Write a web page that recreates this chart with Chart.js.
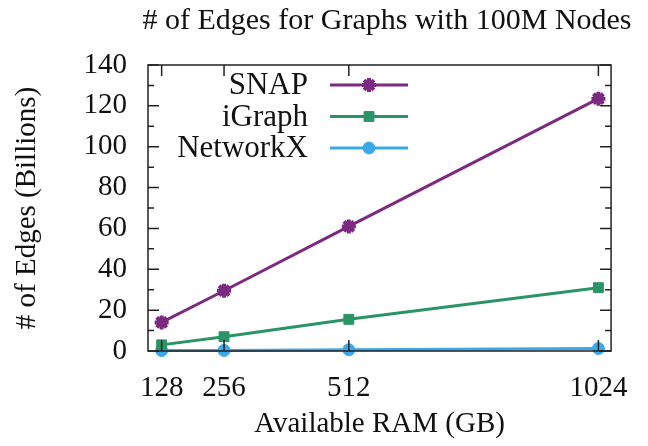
<!DOCTYPE html>
<html>
<head>
<meta charset="utf-8">
<script src="https://cdn.jsdelivr.net/npm/chart.js@4.4.1/dist/chart.umd.min.js"></script>
<style>
  html, body { margin: 0; padding: 0; background: #fff; }
  #wrap { width: 648px; height: 446px; position: relative; }
</style>
</head>
<body>
<div id="wrap"><canvas id="c"></canvas></div>
<script>
const ramGB = [128, 256, 512, 1024];
const snapEdges = [14, 29.5, 61, 123.5];
const igraphEdges = [3, 7, 15.5, 31];
const networkxEdges = [0.2, 0.3, 0.6, 1.2];
const yTicks = [0, 20, 40, 60, 80, 100, 120, 140];
const yMinorTicks = [10, 30, 50, 70, 90, 110, 130];

const SERIF = '"Liberation Serif", "Times New Roman", serif';
const seriesList = [
  { label: 'SNAP', data: snapEdges, color: '#7b2a80', style: 'star', radius: 7, bw: 4 },
  { label: 'iGraph', data: igraphEdges, color: '#2a9467', style: 'rect', radius: 7, bw: 1 },
  { label: 'NetworkX', data: networkxEdges, color: '#3aa9e9', style: 'circle', radius: 6, bw: 1 }
];

// frame, inward ticks, title and legend in the gnuplot manner
const gnuplotFrame = {
  id: 'gnuplotFrame',
  afterDatasetsDraw(chart) {
    const { ctx, chartArea: a, scales } = chart;
    const x = scales.x, y = scales.y;
    ctx.save();
    ctx.strokeStyle = '#222';
    ctx.lineWidth = 1.5;
    ctx.strokeRect(a.left, a.top, a.right - a.left, a.bottom - a.top);
    ctx.beginPath();
    yTicks.forEach(v => {
      const py = y.getPixelForValue(v);
      ctx.moveTo(a.left, py); ctx.lineTo(a.left + 11, py);
      ctx.moveTo(a.right, py); ctx.lineTo(a.right - 11, py);
    });
    yMinorTicks.forEach(v => {
      const py = y.getPixelForValue(v);
      ctx.moveTo(a.left, py); ctx.lineTo(a.left + 6, py);
      ctx.moveTo(a.right, py); ctx.lineTo(a.right - 6, py);
    });
    ramGB.forEach(v => {
      const px = x.getPixelForValue(v);
      ctx.moveTo(px, a.bottom); ctx.lineTo(px, a.bottom - 11);
      ctx.moveTo(px, a.top); ctx.lineTo(px, a.top + 11);
    });
    ctx.stroke();

    // title
    ctx.fillStyle = '#111';
    ctx.font = '30px ' + SERIF;
    ctx.textAlign = 'center';
    ctx.textBaseline = 'middle';
    ctx.fillText('# of Edges for Graphs with 100M Nodes', 387, 21);

    // legend
    ctx.font = '31px ' + SERIF;
    ctx.textAlign = 'right';
    seriesList.forEach((s, i) => {
      const ly = 85 + i * 31.5;
      ctx.fillStyle = '#111';
      ctx.fillText(s.label, 308, ly + 1);
      ctx.strokeStyle = s.color;
      ctx.fillStyle = s.color;
      ctx.lineWidth = 3;
      ctx.beginPath();
      ctx.moveTo(330, ly); ctx.lineTo(408, ly);
      ctx.stroke();
      ctx.lineWidth = s.bw;
      Chart.helpers.drawPoint(ctx, { pointStyle: s.style, radius: s.radius, borderWidth: s.bw, rotation: 0 }, 369, ly);
    });
    ctx.restore();
  }
};

new Chart(document.getElementById('c'), {
  type: 'line',
  data: {
    datasets: seriesList.map(s => ({
      label: s.label,
      data: ramGB.map((r, i) => ({ x: r, y: s.data[i] })),
      borderColor: s.color,
      backgroundColor: s.color,
      borderWidth: 3,
      pointStyle: s.style,
      pointRadius: s.radius,
      pointBorderWidth: s.bw,
      pointBackgroundColor: s.color,
      pointBorderColor: s.color,
      tension: 0,
      clip: false
    }))
  },
  options: {
    responsive: true,
    maintainAspectRatio: false,
    animation: false,
    layout: { padding: { top: 65, right: 22, left: 0, bottom: 0 } },
    plugins: { legend: { display: false }, title: { display: false }, tooltip: { enabled: false } },
    scales: {
      x: {
        type: 'linear',
        min: 100,
        max: 1050,
        afterBuildTicks: s => { s.ticks = ramGB.map(v => ({ value: v })); },
        afterFit: s => { s.height = 95; },
        grid: { display: false, drawTicks: false },
        border: { display: false },
        ticks: { color: '#111', font: { family: SERIF, size: 29 }, padding: 20, maxRotation: 0, autoSkip: false, callback: v => String(v) },
        title: { display: true, text: 'Available RAM (GB)', color: '#111', font: { family: SERIF, size: 29 }, padding: { top: 0, bottom: 4 } }
      },
      y: {
        min: 0,
        max: 140,
        afterBuildTicks: s => { s.ticks = yTicks.map(v => ({ value: v })); },
        afterFit: s => { s.width = 148; },
        grid: { display: false, drawTicks: false },
        border: { display: false },
        ticks: { color: '#111', font: { family: SERIF, size: 29 }, padding: 21 },
        title: { display: true, text: '# of Edges (Billions)', color: '#111', font: { family: SERIF, size: 29 }, padding: { top: 10, bottom: 0 } }
      }
    }
  },
  plugins: [gnuplotFrame]
});
</script>
</body>
</html>
